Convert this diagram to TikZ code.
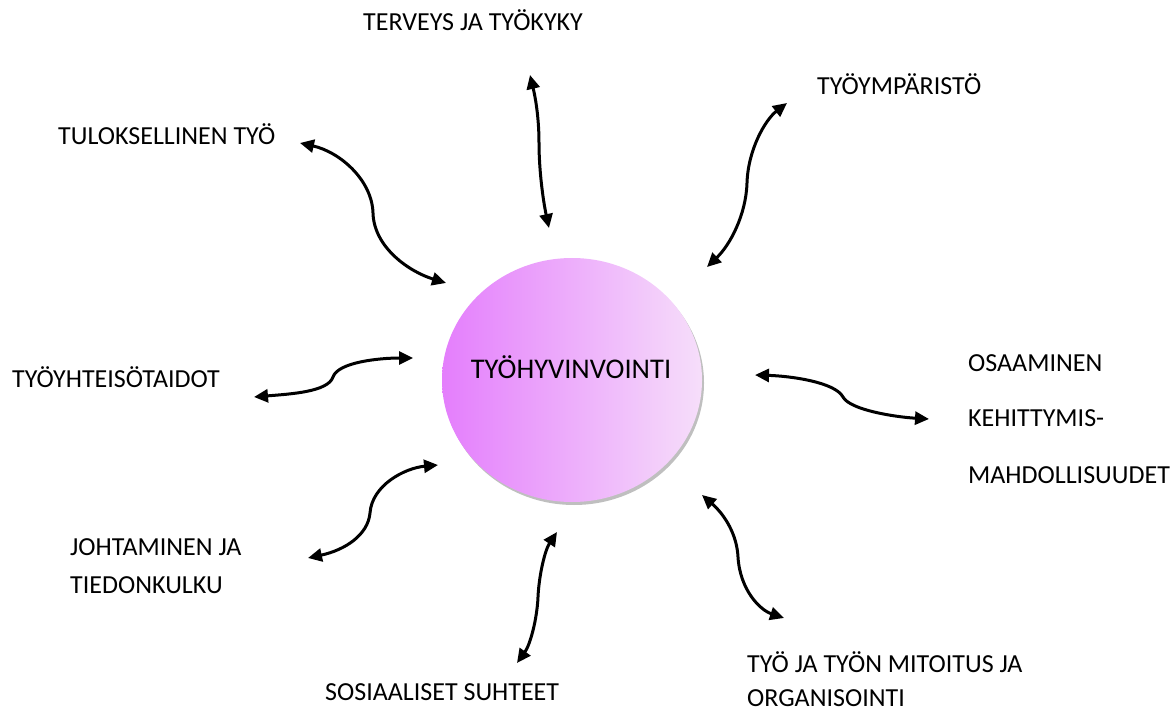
\documentclass[tikz,border=0pt]{standalone}
\usepackage{fontspec}
\setmainfont{Carlito}
\usetikzlibrary{arrows.meta,shapes.geometric,shadows}
\definecolor{magL}{RGB}{228,126,252}
\definecolor{magR}{RGB}{246,222,250}
\tikzset{
  lbl/.style={anchor=base west, inner sep=0pt, font=\fontsize{26}{30}\selectfont},
  conn/.style={line width=3pt, {Triangle[length=14pt,width=13pt]}-{Triangle[length=14pt,width=13pt]}},
  hub/.style={ellipse, minimum width=260pt, minimum height=244pt, inner sep=0pt,
    left color=magL, right color=magR,
    drop shadow={shadow xshift=2pt, shadow yshift=-3pt, fill=black, opacity=0.25}}
}
\begin{document}
\begin{tikzpicture}[x=1pt,y=-1pt]
\useasboundingbox (0,0) rectangle (1176,711);
% hub
\node[hub] (c) at (572,380) {};
\node[anchor=base, inner sep=0pt, font=\fontsize{28.5}{32}\selectfont] (ct) at (571,379) {TYÖHYVINVOINTI};
% labels
\node[lbl] (terveys) at (363,31) {TERVEYS JA TYÖKYKY};
\node[lbl] (ymp) at (817,95) {TYÖYMPÄRISTÖ};
\node[lbl] (tulos) at (58,145) {TULOKSELLINEN TYÖ};
\node[lbl] (yht) at (12,388) {TYÖYHTEISÖTAIDOT};
\node[lbl] (osa1) at (968,372) {OSAAMINEN};
\node[lbl] (osa2) at (968,427) {KEHITTYMIS-};
\node[lbl] (osa3) at (968,483) {MAHDOLLISUUDET};
\node[lbl] (joh1) at (70,555) {JOHTAMINEN JA};
\node[lbl] (joh2) at (70,593) {TIEDONKULKU};
\node[lbl] (sos) at (325,700) {SOSIAALISET SUHTEET};
\node[lbl] (tyo1) at (747,672) {TYÖ JA TYÖN MITOITUS JA};
\node[lbl] (tyo2) at (747,706) {ORGANISOINTI};
% connector points
\coordinate (a1p) at (530,75);  \coordinate (a1m) at (539,143); \coordinate (a1q) at (549,228);
\coordinate (a2p) at (787,103); \coordinate (a2m) at (747,183); \coordinate (a2q) at (707,267);
\coordinate (a3p) at (300,143); \coordinate (a3m) at (373,213); \coordinate (a3q) at (446,283);
\coordinate (a4p) at (254,397); \coordinate (a4m) at (333,377); \coordinate (a4q) at (413,358);
\coordinate (a5p) at (755,375); \coordinate (a5m) at (843,397); \coordinate (a5q) at (929,419);
\coordinate (a6p) at (308,558); \coordinate (a6m) at (370,513); \coordinate (a6q) at (438,465);
\coordinate (a7p) at (557,532); \coordinate (a7m) at (538,597); \coordinate (a7q) at (517,663);
\coordinate (a8p) at (702,495); \coordinate (a8m) at (738,557); \coordinate (a8q) at (784,618);
% connectors
\draw[conn] (a1p) .. controls (536,100) and (539,120) .. (a1m) .. controls (539,170) and (543,200) .. (a1q);
\draw[conn] (a2p) .. controls (765,120) and (748,150) .. (a2m) .. controls (746,215) and (730,245) .. (a2q);
\draw[conn] (a3p) .. controls (340,152) and (372,180) .. (a3m) .. controls (374,248) and (410,272) .. (a3q);
\draw[conn] (a4p) .. controls (290,394) and (328,392) .. (a4m) .. controls (338,362) and (380,358) .. (a4q);
\draw[conn] (a5p) .. controls (790,376) and (835,382) .. (a5m) .. controls (850,410) and (895,417) .. (a5q);
\draw[conn] (a6p) .. controls (345,550) and (368,535) .. (a6m) .. controls (372,485) and (405,468) .. (a6q);
\draw[conn] (a7p) .. controls (545,550) and (539,575) .. (a7m) .. controls (537,620) and (530,645) .. (a7q);
\draw[conn] (a8p) .. controls (725,515) and (737,535) .. (a8m) .. controls (740,590) and (760,610) .. (a8q);
\end{tikzpicture}
\end{document}
